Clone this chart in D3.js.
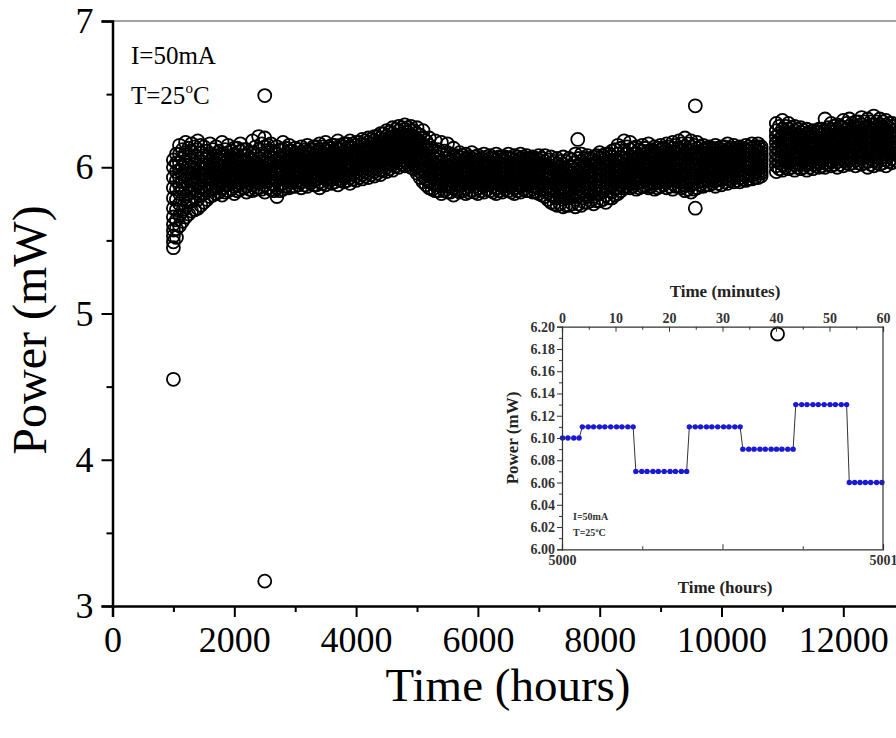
<!DOCTYPE html>
<html>
<head>
<meta charset="utf-8">
<script src="https://cdn.jsdelivr.net/npm/d3@7"></script>
<style>
  html, body { margin: 0; padding: 0; background: #fff; }
  svg { display: block; font-family: "Liberation Serif", "Times New Roman", serif; }
</style>
</head>
<body>
<div id="chart"></div>
<script>
// main series, first pass: readings at each time column (hours -> power in mW)
const hoursA = [1000, 1050, 1100, 1200, 1300, 1400, 1500, 1600, 1700, 1800, 1900,
  2000, 2100, 2200, 2300, 2400, 2500, 2600, 2700, 2800, 2900,
  3000, 3100, 3200, 3300, 3400, 3500, 3600, 3700, 3800, 3900,
  4000, 4100, 4200, 4300, 4400, 4500, 4600, 4700, 4800, 4900,
  5000, 5100, 5200, 5300, 5400, 5500, 5600, 5700, 5800, 5900,
  6000, 6100, 6200, 6300, 6400, 6500, 6600, 6700, 6800, 6900,
  7000, 7100, 7200, 7300, 7400, 7500, 7600, 7700, 7800, 7900,
  8000, 8100, 8200, 8300, 8400, 8500, 8600, 8700, 8800, 8900,
  9000, 9100, 9200, 9300, 9400, 9500, 9600, 9700, 9800, 9900,
  10000, 10100, 10200, 10300, 10400, 10500, 10600, 10650,
  10900, 11000, 11100, 11200, 11300, 11400, 11500, 11600, 11700, 11800, 11900,
  12000, 12100, 12200, 12300, 12400, 12500, 12600, 12700, 12800, 12900];

const powerA = [
  [5.45,5.49,5.53,5.57,5.61,5.66,5.72,5.79,5.86,5.93,6.00,6.05],
  [5.52,5.58,5.64,5.71,5.78,5.85,5.91,5.97,6.03,6.09],
  [5.60,5.67,5.75,5.82,5.88,5.93,5.98,6.03,6.09,6.15],
  [5.66,5.73,5.80,5.86,5.91,5.95,5.99,6.04,6.10,6.17],
  [5.70,5.77,5.83,5.88,5.92,5.96,6.00,6.05,6.11,6.16],
  [5.72,5.78,5.84,5.89,5.93,5.97,6.01,6.06,6.12,6.18],
  [5.76,5.82,5.87,5.91,5.95,5.99,6.03,6.08,6.14],
  [5.80,5.85,5.89,5.93,5.96,6.00,6.04,6.09,6.16],
  [5.82,5.86,5.90,5.93,5.96,5.99,6.03,6.08,6.14],
  [5.81,5.86,5.90,5.94,5.97,6.00,6.04,6.09,6.17],
  [5.84,5.88,5.91,5.94,5.97,6.01,6.05,6.10,6.15],
  [5.82,5.87,5.91,5.94,5.98,6.01,6.05,6.09,6.13],
  [5.85,5.89,5.92,5.95,5.98,6.02,6.06,6.11,6.16],
  [5.83,5.87,5.91,5.94,5.97,6.00,6.04,6.08,6.12],
  [5.84,5.88,5.92,5.95,5.98,6.01,6.05,6.10,6.18],
  [5.86,5.89,5.92,5.95,5.98,6.02,6.06,6.12,6.21],
  [5.83,5.88,5.92,5.95,5.99,6.03,6.08,6.14,6.20],
  [5.85,5.89,5.93,5.96,5.99,6.03,6.07,6.11,6.16],
  [5.80,5.86,5.91,5.95,5.98,6.01,6.05,6.09,6.14],
  [5.85,5.89,5.93,5.96,5.99,6.02,6.06,6.12,6.17],
  [5.86,5.90,5.93,5.96,5.99,6.03,6.07,6.11,6.15],
  [5.87,5.90,5.93,5.96,5.99,6.02,6.06,6.10,6.13],
  [5.86,5.90,5.94,5.97,6.00,6.03,6.06,6.10,6.14],
  [5.87,5.91,5.94,5.97,6.00,6.03,6.07,6.11,6.15],
  [5.88,5.91,5.94,5.97,6.00,6.04,6.08,6.12,6.14],
  [5.86,5.90,5.94,5.98,6.01,6.04,6.08,6.12,6.16],
  [5.88,5.92,5.95,5.98,6.01,6.04,6.08,6.12,6.17],
  [5.89,5.92,5.95,5.98,6.01,6.05,6.09,6.13,6.15],
  [5.88,5.92,5.96,5.99,6.02,6.05,6.09,6.13,6.18],
  [5.90,5.93,5.96,5.99,6.02,6.06,6.10,6.14,6.16],
  [5.89,5.93,5.97,6.00,6.03,6.06,6.10,6.14,6.18],
  [5.91,5.94,5.97,6.00,6.03,6.07,6.11,6.15,6.17],
  [5.92,5.95,5.98,6.01,6.04,6.08,6.12,6.16,6.19],
  [5.93,5.96,5.99,6.02,6.05,6.09,6.13,6.17,6.20],
  [5.94,5.97,6.00,6.03,6.07,6.10,6.14,6.18,6.21],
  [5.95,5.98,6.02,6.05,6.08,6.12,6.16,6.20,6.23],
  [5.97,6.00,6.03,6.07,6.10,6.13,6.17,6.21,6.25],
  [5.98,6.02,6.05,6.08,6.12,6.15,6.19,6.23,6.27],
  [6.00,6.03,6.07,6.10,6.13,6.17,6.21,6.25,6.28],
  [6.01,6.04,6.08,6.11,6.14,6.18,6.22,6.26,6.29],
  [6.00,6.04,6.07,6.11,6.14,6.17,6.21,6.25,6.28],
  [5.96,6.00,6.04,6.08,6.11,6.15,6.19,6.23,6.27],
  [5.90,5.94,5.98,6.02,6.06,6.10,6.15,6.20,6.25],
  [5.86,5.90,5.94,5.98,6.01,6.05,6.10,6.15,6.20],
  [5.84,5.88,5.92,5.95,5.98,6.02,6.06,6.11,6.18],
  [5.82,5.87,5.91,5.94,5.97,6.00,6.04,6.09,6.17],
  [5.83,5.87,5.91,5.94,5.97,6.00,6.04,6.10,6.16],
  [5.81,5.86,5.90,5.93,5.96,5.99,6.03,6.07,6.13],
  [5.83,5.87,5.91,5.94,5.97,6.00,6.03,6.07,6.10],
  [5.82,5.86,5.90,5.93,5.96,5.99,6.02,6.06,6.09],
  [5.84,5.88,5.91,5.94,5.97,6.00,6.03,6.06,6.10],
  [5.82,5.86,5.90,5.93,5.96,5.99,6.02,6.05,6.08],
  [5.83,5.87,5.90,5.93,5.96,5.99,6.02,6.05,6.09],
  [5.84,5.88,5.91,5.94,5.97,6.00,6.03,6.06,6.08],
  [5.82,5.86,5.90,5.93,5.96,5.99,6.02,6.05,6.09],
  [5.83,5.87,5.90,5.93,5.96,5.99,6.02,6.05,6.07],
  [5.84,5.87,5.91,5.94,5.97,6.00,6.03,6.06,6.09],
  [5.82,5.86,5.90,5.93,5.96,5.99,6.02,6.05,6.08],
  [5.83,5.87,5.91,5.94,5.97,6.00,6.03,6.06,6.09],
  [5.84,5.88,5.91,5.94,5.97,6.00,6.03,6.06,6.08],
  [5.83,5.87,5.90,5.93,5.96,5.99,6.02,6.05,6.07],
  [5.82,5.86,5.90,5.93,5.96,5.99,6.02,6.05,6.08],
  [5.80,5.85,5.89,5.92,5.95,5.98,6.01,6.04,6.08],
  [5.76,5.81,5.86,5.90,5.93,5.96,5.99,6.03,6.07],
  [5.74,5.79,5.84,5.88,5.92,5.95,5.98,6.02,6.06],
  [5.73,5.78,5.83,5.87,5.91,5.94,5.98,6.02,6.07],
  [5.74,5.79,5.84,5.88,5.91,5.94,5.97,6.01,6.06],
  [5.73,5.78,5.83,5.87,5.91,5.94,5.98,6.03,6.09],
  [5.74,5.79,5.84,5.88,5.92,5.95,5.99,6.04,6.09],
  [5.76,5.80,5.85,5.89,5.93,5.96,6.00,6.05,6.08],
  [5.75,5.80,5.85,5.89,5.93,5.97,6.01,6.05,6.07],
  [5.77,5.82,5.86,5.90,5.94,5.98,6.02,6.06,6.10],
  [5.76,5.81,5.86,5.90,5.94,5.98,6.02,6.06,6.09],
  [5.79,5.83,5.87,5.91,5.95,5.99,6.03,6.07,6.11],
  [5.82,5.86,5.90,5.94,5.97,6.01,6.05,6.09,6.15],
  [5.86,5.89,5.92,5.95,5.98,6.02,6.06,6.11,6.18],
  [5.86,5.89,5.93,5.96,5.99,6.03,6.07,6.12,6.17],
  [5.85,5.89,5.92,5.95,5.99,6.02,6.06,6.10,6.14],
  [5.87,5.90,5.93,5.96,5.99,6.03,6.07,6.11,6.15],
  [5.86,5.89,5.93,5.96,6.00,6.03,6.07,6.11,6.16],
  [5.85,5.89,5.92,5.96,5.99,6.03,6.07,6.11,6.14],
  [5.87,5.90,5.93,5.97,6.00,6.04,6.08,6.12,6.15],
  [5.86,5.90,5.93,5.97,6.00,6.04,6.08,6.12,6.16],
  [5.85,5.89,5.93,5.96,6.00,6.04,6.08,6.13,6.17],
  [5.87,5.90,5.94,5.97,6.01,6.05,6.09,6.13,6.18],
  [5.84,5.88,5.92,5.96,6.00,6.04,6.09,6.14,6.20],
  [5.83,5.88,5.92,5.96,6.00,6.04,6.09,6.14,6.18],
  [5.86,5.90,5.93,5.97,6.01,6.05,6.09,6.13,6.17],
  [5.87,5.91,5.94,5.97,6.01,6.04,6.08,6.12,6.15],
  [5.88,5.91,5.94,5.98,6.01,6.05,6.09,6.13,6.14],
  [5.87,5.91,5.94,5.98,6.01,6.05,6.09,6.12,6.15],
  [5.88,5.92,5.95,5.98,6.02,6.05,6.09,6.12,6.14],
  [5.89,5.92,5.95,5.99,6.02,6.06,6.09,6.12,6.16],
  [5.90,5.93,5.96,5.99,6.02,6.06,6.09,6.12,6.15],
  [5.90,5.93,5.96,5.99,6.03,6.06,6.09,6.12,6.14],
  [5.91,5.94,5.97,6.00,6.03,6.06,6.09,6.12,6.15],
  [5.92,5.95,5.98,6.01,6.04,6.07,6.10,6.13,6.16],
  [5.93,5.96,5.99,6.02,6.05,6.08,6.11,6.14,6.16],
  [5.94,5.96,5.98,6.00,6.02,6.04,6.06,6.08,6.10,6.12,6.14],
  [5.97,6.01,6.05,6.09,6.13,6.17,6.21,6.25,6.30],
  [5.98,6.02,6.06,6.10,6.13,6.17,6.21,6.26,6.32],
  [5.99,6.03,6.06,6.10,6.14,6.18,6.22,6.26,6.30],
  [5.98,6.02,6.06,6.09,6.13,6.17,6.21,6.25,6.28],
  [5.99,6.02,6.06,6.09,6.13,6.16,6.20,6.24,6.27],
  [5.98,6.02,6.05,6.09,6.12,6.16,6.20,6.23,6.26],
  [5.99,6.02,6.06,6.09,6.13,6.16,6.19,6.23,6.25],
  [6.00,6.03,6.06,6.10,6.13,6.16,6.20,6.24,6.26],
  [6.00,6.03,6.07,6.10,6.14,6.17,6.21,6.25,6.33],
  [6.01,6.04,6.07,6.11,6.14,6.18,6.22,6.26,6.30],
  [6.00,6.04,6.07,6.11,6.15,6.18,6.22,6.26,6.29],
  [6.01,6.05,6.08,6.12,6.15,6.19,6.23,6.27,6.32],
  [6.02,6.05,6.09,6.12,6.16,6.20,6.24,6.28,6.33],
  [6.01,6.05,6.09,6.13,6.16,6.20,6.24,6.28,6.31],
  [6.02,6.06,6.09,6.13,6.17,6.21,6.25,6.29,6.34],
  [6.00,6.04,6.08,6.12,6.16,6.20,6.24,6.28,6.33],
  [6.01,6.05,6.09,6.13,6.17,6.21,6.25,6.29,6.35],
  [6.02,6.06,6.10,6.13,6.17,6.21,6.25,6.29,6.33],
  [6.01,6.05,6.09,6.13,6.17,6.21,6.25,6.29,6.32],
  [6.03,6.06,6.10,6.14,6.17,6.21,6.25,6.28,6.30],
  [6.04,6.08,6.12,6.16,6.20,6.24]
];

// main series, second pass: readings between the first-pass columns
const hoursB = [1150, 1250, 1350, 1450, 1550, 1650, 1750, 1850, 1950,
  2050, 2150, 2250, 2350, 2450, 2550, 2650, 2750, 2850, 2950,
  3050, 3150, 3250, 3350, 3450, 3550, 3650, 3750, 3850, 3950,
  4050, 4150, 4250, 4350, 4450, 4550, 4650, 4750, 4850, 4950,
  5050, 5150, 5250, 5350, 5450, 5550, 5650, 5750, 5850, 5950,
  6050, 6150, 6250, 6350, 6450, 6550, 6650, 6750, 6850, 6950,
  7050, 7150, 7250, 7350, 7450, 7550, 7650, 7750, 7850, 7950,
  8050, 8150, 8250, 8350, 8450, 8550, 8650, 8750, 8850, 8950,
  9050, 9150, 9250, 9350, 9450, 9550, 9650, 9750, 9850, 9950,
  10050, 10150, 10250, 10350, 10450, 10550,
  10950, 11050, 11150, 11250, 11350, 11450, 11550, 11650, 11750, 11850, 11950,
  12050, 12150, 12250, 12350, 12450, 12550, 12650, 12750, 12850];

const powerB = [
  [5.63,5.70,5.78,5.85,5.90,5.95,6.00,6.06,6.12],
  [5.68,5.76,5.82,5.87,5.92,5.96,6.01,6.07,6.13],
  [5.71,5.79,5.85,5.90,5.94,5.98,6.02,6.08,6.14],
  [5.74,5.81,5.86,5.91,5.95,5.99,6.04,6.10,6.15],
  [5.78,5.84,5.88,5.92,5.97,6.01,6.06,6.11],
  [5.81,5.85,5.91,5.95,5.98,6.02,6.06,6.12],
  [5.83,5.88,5.92,5.95,5.98,6.02,6.06,6.11],
  [5.83,5.88,5.92,5.95,5.99,6.03,6.07,6.12],
  [5.85,5.89,5.93,5.96,5.99,6.03,6.07,6.11],
  [5.84,5.88,5.92,5.96,5.99,6.03,6.08,6.13],
  [5.86,5.90,5.93,5.96,6.00,6.04,6.08,6.12],
  [5.85,5.89,5.93,5.96,5.99,6.02,6.06,6.10],
  [5.85,5.90,5.93,5.96,6.00,6.03,6.08,6.14],
  [5.85,5.90,5.94,5.97,6.00,6.04,6.09,6.16],
  [5.86,5.90,5.94,5.97,6.01,6.05,6.10,6.15],
  [5.84,5.88,5.92,5.96,5.99,6.02,6.06,6.10],
  [5.84,5.88,5.92,5.96,5.99,6.03,6.07,6.12],
  [5.87,5.91,5.94,5.97,6.00,6.04,6.08,6.13],
  [5.87,5.91,5.94,5.97,6.01,6.04,6.08,6.11],
  [5.88,5.91,5.95,5.98,6.01,6.04,6.08,6.12],
  [5.88,5.92,5.95,5.98,6.01,6.05,6.08,6.12],
  [5.89,5.92,5.95,5.98,6.02,6.05,6.09,6.12],
  [5.88,5.92,5.96,5.99,6.02,6.06,6.10,6.14],
  [5.89,5.93,5.96,5.99,6.03,6.06,6.10,6.14],
  [5.90,5.93,5.96,6.00,6.03,6.07,6.11,6.14],
  [5.90,5.94,5.97,6.00,6.03,6.07,6.11,6.15],
  [5.91,5.94,5.97,6.01,6.04,6.08,6.12,6.15],
  [5.91,5.95,5.98,6.01,6.04,6.08,6.12,6.16],
  [5.92,5.95,5.99,6.02,6.05,6.09,6.13,6.16],
  [5.93,5.96,5.99,6.03,6.06,6.10,6.14,6.17],
  [5.94,5.97,6.00,6.04,6.07,6.11,6.15,6.18],
  [5.95,5.98,6.01,6.05,6.08,6.12,6.16,6.19],
  [5.96,5.99,6.03,6.06,6.09,6.13,6.17,6.21],
  [5.98,6.01,6.04,6.08,6.11,6.15,6.19,6.23],
  [5.99,6.02,6.06,6.09,6.13,6.16,6.20,6.24],
  [6.01,6.04,6.07,6.11,6.14,6.18,6.22,6.26],
  [6.02,6.05,6.09,6.12,6.16,6.19,6.23,6.27],
  [6.02,6.06,6.09,6.13,6.16,6.20,6.24,6.27],
  [5.99,6.02,6.06,6.10,6.13,6.17,6.21,6.25],
  [5.93,5.97,6.01,6.05,6.09,6.13,6.17,6.22],
  [5.88,5.92,5.96,6.00,6.04,6.08,6.13,6.18],
  [5.85,5.89,5.93,5.96,6.00,6.04,6.08,6.13],
  [5.84,5.88,5.92,5.95,5.99,6.03,6.07,6.12],
  [5.84,5.88,5.92,5.95,5.98,6.02,6.06,6.11],
  [5.83,5.87,5.91,5.94,5.98,6.01,6.05,6.09],
  [5.84,5.88,5.91,5.95,5.98,6.01,6.05,6.08],
  [5.84,5.88,5.92,5.95,5.98,6.01,6.04,6.08],
  [5.83,5.87,5.91,5.94,5.97,6.00,6.04,6.07],
  [5.83,5.87,5.91,5.94,5.97,6.00,6.03,6.07],
  [5.84,5.88,5.91,5.94,5.97,6.00,6.03,6.06],
  [5.85,5.88,5.91,5.94,5.97,6.00,6.03,6.07],
  [5.83,5.87,5.91,5.94,5.97,6.00,6.03,6.06],
  [5.84,5.88,5.91,5.94,5.97,6.00,6.03,6.07],
  [5.85,5.88,5.92,5.95,5.98,6.01,6.04,6.07],
  [5.83,5.87,5.91,5.94,5.97,6.00,6.03,6.06],
  [5.84,5.88,5.92,5.95,5.98,6.01,6.04,6.07],
  [5.85,5.88,5.92,5.95,5.98,6.01,6.04,6.07],
  [5.84,5.88,5.91,5.94,5.97,6.00,6.03,6.06],
  [5.83,5.87,5.91,5.94,5.97,6.00,6.03,6.06],
  [5.81,5.85,5.89,5.93,5.96,5.99,6.02,6.06],
  [5.78,5.83,5.87,5.91,5.94,5.97,6.00,6.05],
  [5.75,5.80,5.85,5.89,5.92,5.95,5.99,6.04],
  [5.75,5.80,5.85,5.89,5.92,5.96,6.00,6.04],
  [5.74,5.79,5.84,5.88,5.92,5.95,5.99,6.04],
  [5.75,5.80,5.85,5.89,5.92,5.96,6.00,6.05],
  [5.75,5.80,5.85,5.89,5.93,5.97,6.01,6.06],
  [5.76,5.81,5.86,5.90,5.94,5.98,6.02,6.06],
  [5.77,5.82,5.86,5.90,5.94,5.98,6.02,6.06],
  [5.77,5.82,5.87,5.91,5.95,5.99,6.03,6.08],
  [5.78,5.83,5.87,5.91,5.95,5.99,6.03,6.08],
  [5.79,5.84,5.88,5.92,5.96,6.00,6.04,6.09],
  [5.81,5.85,5.89,5.93,5.97,6.01,6.05,6.12],
  [5.84,5.88,5.91,5.95,5.99,6.03,6.07,6.13],
  [5.87,5.90,5.93,5.97,6.00,6.04,6.09,6.14],
  [5.87,5.90,5.94,5.97,6.01,6.05,6.09,6.13],
  [5.86,5.90,5.93,5.97,6.00,6.04,6.08,6.12],
  [5.87,5.91,5.94,5.98,6.01,6.05,6.09,6.13],
  [5.87,5.90,5.94,5.97,6.01,6.05,6.09,6.12],
  [5.86,5.90,5.94,5.98,6.01,6.05,6.09,6.13],
  [5.88,5.91,5.95,5.98,6.02,6.06,6.10,6.13],
  [5.87,5.91,5.95,5.98,6.02,6.06,6.10,6.14],
  [5.87,5.91,5.94,5.98,6.02,6.06,6.10,6.15],
  [5.86,5.90,5.94,5.98,6.02,6.06,6.11,6.16],
  [5.85,5.89,5.93,5.97,6.02,6.06,6.11,6.16],
  [5.85,5.89,5.94,5.98,6.02,6.06,6.10,6.15],
  [5.88,5.91,5.95,5.99,6.02,6.06,6.10,6.14],
  [5.88,5.92,5.95,5.99,6.03,6.06,6.10,6.13],
  [5.89,5.92,5.96,5.99,6.03,6.07,6.10,6.13],
  [5.89,5.92,5.96,6.00,6.03,6.07,6.10,6.13],
  [5.90,5.93,5.97,6.00,6.03,6.07,6.10,6.14],
  [5.91,5.94,5.97,6.00,6.04,6.07,6.10,6.13],
  [5.91,5.94,5.97,6.01,6.04,6.07,6.10,6.13],
  [5.92,5.95,5.98,6.01,6.04,6.07,6.10,6.13],
  [5.92,5.95,5.99,6.02,6.05,6.08,6.11,6.14],
  [5.93,5.96,5.99,6.02,6.05,6.08,6.11,6.14],
  [5.99,6.03,6.07,6.11,6.15,6.19,6.23,6.28],
  [6.00,6.04,6.08,6.11,6.15,6.19,6.23,6.28],
  [6.00,6.04,6.08,6.12,6.15,6.19,6.23,6.27],
  [6.00,6.03,6.07,6.11,6.15,6.18,6.22,6.26],
  [6.00,6.04,6.07,6.11,6.14,6.18,6.21,6.25],
  [6.00,6.03,6.07,6.10,6.14,6.17,6.21,6.24],
  [6.01,6.04,6.07,6.11,6.14,6.17,6.21,6.24],
  [6.01,6.05,6.08,6.11,6.15,6.18,6.22,6.26],
  [6.02,6.05,6.09,6.12,6.16,6.19,6.23,6.27],
  [6.02,6.06,6.09,6.13,6.16,6.20,6.24,6.28],
  [6.02,6.06,6.10,6.13,6.17,6.20,6.24,6.28],
  [6.03,6.07,6.10,6.14,6.18,6.22,6.26,6.30],
  [6.03,6.07,6.11,6.15,6.18,6.22,6.26,6.30],
  [6.03,6.07,6.11,6.15,6.19,6.23,6.27,6.31],
  [6.03,6.07,6.11,6.15,6.19,6.23,6.27,6.31],
  [6.02,6.06,6.10,6.14,6.18,6.22,6.26,6.31],
  [6.03,6.07,6.11,6.15,6.19,6.23,6.27,6.31],
  [6.03,6.07,6.11,6.15,6.19,6.23,6.27,6.31],
  [6.04,6.08,6.11,6.15,6.19,6.23,6.27,6.30],
  [6.05,6.09,6.13,6.17,6.21,6.25,6.28]
];

// isolated readings away from the band
const outlierHours = [1000, 2500, 2500, 7640, 9570, 9570, 10920];
const outlierPower = [4.55, 3.17, 6.49, 6.19, 6.42, 5.72, 4.86];

const xTicks = [0, 2000, 4000, 6000, 8000, 10000, 12000];
const yTicks = [3, 4, 5, 6, 7];

// inset: one hour of readings at 5000 h
const insetMinutes = [0.1, 1.1, 2.2, 3.2,
  3.8, 4.9, 5.9, 7.0, 8.0, 9.1, 10.2, 11.2, 12.3, 13.3,
  13.8, 14.9, 15.9, 17.0, 18.0, 19.1, 20.2, 21.2, 22.3, 23.3,
  23.8, 24.9, 25.9, 27.0, 28.0, 29.1, 30.2, 31.2, 32.3, 33.3,
  33.8, 34.9, 35.9, 37.0, 38.0, 39.1, 40.1, 41.1, 42.2, 43.2,
  43.7, 44.8, 45.8, 46.9, 47.9, 49.0, 50.1, 51.1, 52.2, 53.2,
  53.7, 54.7, 55.7, 56.7, 57.7, 58.8, 59.8];
const insetPower = [6.10, 6.10, 6.10, 6.10,
  6.11, 6.11, 6.11, 6.11, 6.11, 6.11, 6.11, 6.11, 6.11, 6.11,
  6.07, 6.07, 6.07, 6.07, 6.07, 6.07, 6.07, 6.07, 6.07, 6.07,
  6.11, 6.11, 6.11, 6.11, 6.11, 6.11, 6.11, 6.11, 6.11, 6.11,
  6.09, 6.09, 6.09, 6.09, 6.09, 6.09, 6.09, 6.09, 6.09, 6.09,
  6.13, 6.13, 6.13, 6.13, 6.13, 6.13, 6.13, 6.13, 6.13, 6.13,
  6.06, 6.06, 6.06, 6.06, 6.06, 6.06, 6.06];
const insetYTicks = [6.00, 6.02, 6.04, 6.06, 6.08, 6.10, 6.12, 6.14, 6.16, 6.18, 6.20];
const insetMinuteTicks = [0, 10, 20, 30, 40, 50, 60];
const insetHourTicks = [5000, 5000.5, 5001];

const W = 896, H = 738;

const svg = d3.select("#chart").append("svg")
  .attr("width", W)
  .attr("height", H);

svg.append("rect").attr("width", W).attr("height", H).attr("fill", "#fff");

// main scales
const x = d3.scaleLinear().domain([0, 14000]).range([112.5, 112.5 + 14 * 60.9]);
const y = d3.scaleLinear().domain([3, 7]).range([606, 21]);

// points
const pts = [];
hoursA.forEach((h, i) => powerA[i].forEach(p => pts.push([h, p])));
hoursB.forEach((h, i) => powerB[i].forEach(p => pts.push([h, p])));
outlierHours.forEach((h, i) => pts.push([h, outlierPower[i]]));

svg.append("g")
  .selectAll("circle")
  .data(pts)
  .join("circle")
  .attr("cx", d => x(d[0]))
  .attr("cy", d => y(d[1]))
  .attr("r", 6.5)
  .attr("fill", "none")
  .attr("stroke", "#000")
  .attr("stroke-width", 1.8);

// top frame line
svg.append("line")
  .attr("x1", x(0)).attr("x2", W)
  .attr("y1", y(7)).attr("y2", y(7))
  .attr("stroke", "#444").attr("stroke-width", 1.2);

// x axis
const xAxis = svg.append("g")
  .attr("transform", `translate(0,${y(3)})`)
  .call(d3.axisBottom(x).tickValues(xTicks).tickSize(11).tickPadding(8).tickFormat(d3.format("d")));
svg.append("g")
  .attr("transform", `translate(0,${y(3)})`)
  .call(d3.axisBottom(x).tickValues(d3.range(1000, 14000, 2000)).tickSize(6).tickFormat(""))
  .select(".domain").remove();

// y axis
const yAxis = svg.append("g")
  .attr("transform", `translate(${x(0)},0)`)
  .call(d3.axisLeft(y).tickValues(yTicks).tickSize(11).tickPadding(8).tickFormat(d3.format("d")));
svg.append("g")
  .attr("transform", `translate(${x(0)},0)`)
  .call(d3.axisLeft(y).tickValues([3.5, 4.5, 5.5, 6.5]).tickSize(6).tickFormat(""))
  .select(".domain").remove();

svg.selectAll(".domain").attr("stroke-width", 2.5);
svg.selectAll(".tick line").attr("stroke-width", 2);
svg.selectAll(".tick text")
  .attr("font-family", "Liberation Serif, serif")
  .attr("font-size", 36)
  .attr("fill", "#000");
xAxis.selectAll(".tick text").attr("dy", "0.75em");

// axis titles
svg.append("text")
  .attr("x", 508).attr("y", 701)
  .attr("text-anchor", "middle")
  .attr("font-size", 47)
  .text("Time (hours)");

svg.append("text")
  .attr("transform", "translate(46,330) rotate(-90)")
  .attr("text-anchor", "middle")
  .attr("font-size", 48)
  .text("Power (mW)");

// conditions
const note = svg.append("g").attr("font-size", 25);
note.append("text").attr("x", 131).attr("y", 64).text("I=50mA");
const t2 = note.append("text").attr("x", 131).attr("y", 104);
t2.append("tspan").text("T=25");
t2.append("tspan").attr("font-size", 15).attr("dy", -11).text("o");
t2.append("tspan").attr("dy", 11).text("C");

// ---- inset ----
const ix = d3.scaleLinear().domain([0, 60]).range([562, 883]);
const ih = d3.scaleLinear().domain([5000, 5001]).range([562, 883]);
const iy = d3.scaleLinear().domain([6.00, 6.20]).range([549.3, 326.7]);

const inset = svg.append("g").attr("font-weight", "bold").attr("fill", "#222");

inset.append("path")
  .datum(insetMinutes.map((m, i) => [m, insetPower[i]]))
  .attr("d", d3.line().x(d => ix(d[0])).y(d => iy(d[1])))
  .attr("fill", "none")
  .attr("stroke", "#333")
  .attr("stroke-width", 1);

inset.append("g")
  .selectAll("circle")
  .data(insetMinutes.map((m, i) => [m, insetPower[i]]))
  .join("circle")
  .attr("cx", d => ix(d[0]))
  .attr("cy", d => iy(d[1]))
  .attr("r", 2.7)
  .attr("fill", "#1a1ad6");

// left axis
inset.append("g")
  .attr("transform", `translate(${ix(0)},0)`)
  .call(d3.axisLeft(iy).tickValues(insetYTicks).tickSize(5).tickPadding(2).tickFormat(d3.format(".2f")));
inset.append("g")
  .attr("transform", `translate(${ix(0)},0)`)
  .call(d3.axisLeft(iy).tickValues(d3.range(6.01, 6.2, 0.02)).tickSize(3).tickFormat(""))
  .select(".domain").remove();

// top axis (minutes), ticks pointing in
inset.append("g")
  .attr("transform", `translate(0,${iy(6.20)})`)
  .call(d3.axisTop(ix).tickValues(insetMinuteTicks).tickSize(-5).tickPadding(4));
inset.append("g")
  .attr("transform", `translate(0,${iy(6.20)})`)
  .call(d3.axisTop(ix).tickValues(d3.range(5, 60, 10)).tickSize(-3).tickFormat(""))
  .select(".domain").remove();

// bottom axis (hours)
inset.append("g")
  .attr("transform", `translate(0,${iy(6.00)})`)
  .call(d3.axisBottom(ih).tickValues(insetHourTicks).tickSize(-5).tickPadding(6)
    .tickFormat(d => d % 1 === 0 ? d3.format("d")(d) : ""));
inset.append("g")
  .attr("transform", `translate(0,${iy(6.00)})`)
  .call(d3.axisBottom(ih).tickValues([5000.25, 5000.75]).tickSize(-3).tickFormat(""))
  .select(".domain").remove();

// right frame
inset.append("line")
  .attr("x1", ix(60)).attr("x2", ix(60))
  .attr("y1", iy(6.20)).attr("y2", iy(6.00))
  .attr("stroke", "#333").attr("stroke-width", 1.2);

inset.selectAll(".domain").attr("stroke", "#333").attr("stroke-width", 1.2);
inset.selectAll(".tick line").attr("stroke", "#333").attr("stroke-width", 1);
inset.selectAll(".tick text")
  .attr("font-family", "Liberation Serif, serif")
  .attr("font-size", 14)
  .attr("font-weight", "bold")
  .attr("fill", "#333");

inset.append("text")
  .attr("x", 725).attr("y", 297)
  .attr("text-anchor", "middle")
  .attr("font-size", 17)
  .text("Time (minutes)");

inset.append("text")
  .attr("x", 725).attr("y", 593)
  .attr("text-anchor", "middle")
  .attr("font-size", 17)
  .text("Time (hours)");

inset.append("text")
  .attr("transform", "translate(518,438) rotate(-90)")
  .attr("text-anchor", "middle")
  .attr("font-size", 17)
  .text("Power (mW)");

const inote = inset.append("g").attr("font-size", 10).attr("fill", "#333");
inote.append("text").attr("x", 573).attr("y", 520).text("I=50mA");
const it2 = inote.append("text").attr("x", 573).attr("y", 536);
it2.append("tspan").text("T=25");
it2.append("tspan").attr("font-size", 6).attr("dy", -4).text("o");
it2.append("tspan").attr("dy", 4).text("C");
</script>
</body>
</html>
